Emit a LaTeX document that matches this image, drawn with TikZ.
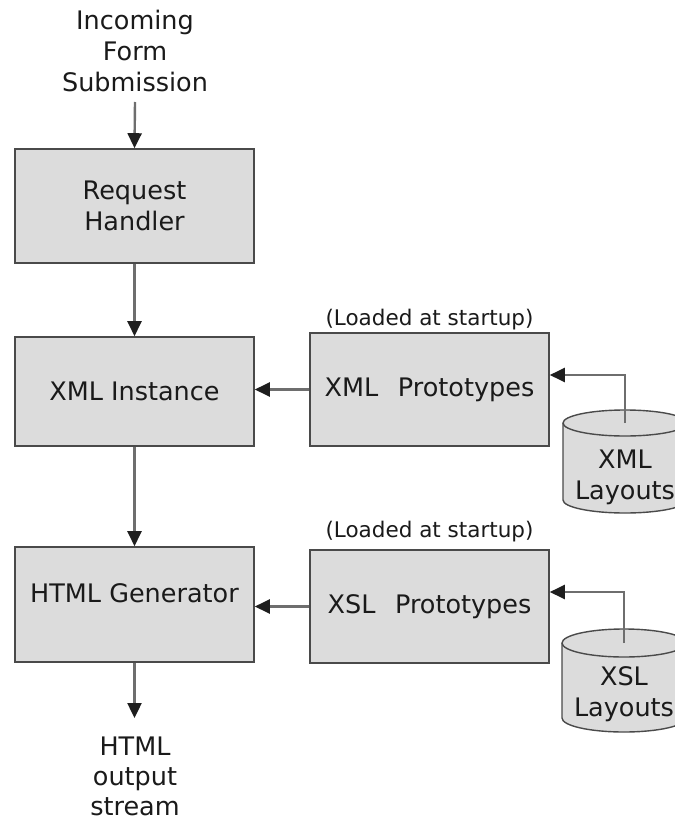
\documentclass[tikz,border=0pt]{standalone}
\usepackage{fontspec}
\setmainfont{DejaVu Sans}
\usetikzlibrary{arrows.meta}
\definecolor{boxfill}{HTML}{DCDCDC}
\definecolor{boxline}{HTML}{4A4A4A}
\definecolor{linecol}{HTML}{6E6E6E}
\definecolor{tipcol}{HTML}{1E1E1E}
\definecolor{textcol}{HTML}{1A1A1A}
\begin{document}
\begin{tikzpicture}[x=1pt,y=-1pt,
  box/.style={draw=boxline, fill=boxfill, line width=1.6pt, minimum width=239pt, inner sep=0pt},
  lbl/.style={font=\fontsize{25.5}{31}\selectfont, align=center, text=textcol, inner sep=0pt},
  small/.style={font=\fontsize{21.5}{24}\selectfont, text=textcol, inner sep=0pt},
  cyl/.style={draw=boxline, fill=boxfill, line width=1.4pt},
  conn/.style={draw=linecol, line width=2.4pt, -{Triangle[width=14pt,length=15pt,fill=tipcol,color=tipcol]}}]
\useasboundingbox (0,0) rectangle (674,821);
\fill[white] (0,0) rectangle (674,821);

% left column
\node[lbl] (in) at (135,51) {Incoming\\Form\\Submission};
\node[box, minimum height=114pt, lbl] (rh) at (134.5,206) {Request\\Handler};
\node[box, minimum height=109pt, lbl] (xi) at (134.5,391.5) {XML Instance};
\node[box, minimum height=115pt] (hg) at (134.5,604.5) {};
\node[lbl] (hgt) at (134.5,593) {HTML Generator};
\node[lbl, font=\fontsize{25.5}{30}\selectfont] (out) at (135,776) {HTML\\output\\stream};
\coordinate (intop) at (135,102);
\coordinate (outtip) at (134.5,718);

% prototypes
\node[small] (ld1) at (429.5,320) {(Loaded at startup)};
\node[box, minimum height=113pt, lbl] (xp) at (429.5,389.5) {XML\hspace{0.45em} Prototypes};
\node[small] (ld2) at (429.5,532) {(Loaded at startup)};
\node[box, minimum height=113pt, lbl] (xsp) at (429.5,606.5) {XSL\hspace{0.45em} Prototypes};

% XML layouts cylinder
\filldraw[cyl] (563,423) -- (563,500) arc[start angle=180,end angle=360,x radius=62pt,y radius=13pt]
  -- (687,423) arc[start angle=0,end angle=180,x radius=62pt,y radius=13pt] -- cycle;
\draw[cyl, fill=none] (563,423) arc[start angle=180,end angle=360,x radius=62pt,y radius=13pt];
\coordinate (xltop) at (625,423);
\node[lbl] (xl) at (625,477) {XML\\Layouts};

% XSL layouts cylinder
\filldraw[cyl] (562,643) -- (562,718) arc[start angle=180,end angle=360,x radius=62pt,y radius=14pt]
  -- (686,643) arc[start angle=0,end angle=180,x radius=62pt,y radius=14pt] -- cycle;
\draw[cyl, fill=none] (562,643) arc[start angle=180,end angle=360,x radius=62pt,y radius=14pt];
\coordinate (xsltop) at (624,643);
\node[lbl] (xsl) at (624,694) {XSL\\Layouts};

% connectors
\draw[conn] (intop) -- (rh.north);
\draw[conn] (rh) -- (xi);
\draw[conn] (xi) -- (hg);
\draw[conn] (hg.south) -- (outtip);
\draw[conn] (xp.west) -- (xi.east |- xp.west);
\draw[conn] (xsp.west) -- (hg.east |- xsp.west);
\draw[conn] (xltop) |- ([yshift=14.5pt]xp.east);
\draw[conn] (xsltop) |- ([yshift=14.5pt]xsp.east);
\end{tikzpicture}
\end{document}
